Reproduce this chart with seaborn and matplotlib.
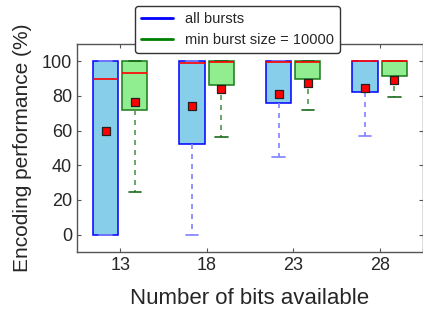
import matplotlib
matplotlib.use("Agg")
import matplotlib.pyplot as plt
from matplotlib.lines import Line2D
import seaborn as sns
import numpy as np
import pandas as pd

sns.set_style("white")
plt.rcParams['font.family'] = ['Liberation Sans', 'DejaVu Sans']

bits = [13, 18, 23, 28]
# box statistics per group: lower whisker, Q1, median, Q3, upper whisker
all_lo = [0, 0, 45, 57]
all_q1 = [0, 52.5, 75.7, 82.5]
all_med = [89.5, 98.7, 99.8, 100]
all_q3 = [100, 100, 100, 100]
all_hi = [100, 100, 100, 100]
all_mean = [59.7, 74.0, 81.2, 84.3]

big_lo = [24.5, 56, 72, 79.5]
big_q1 = [72, 86.5, 90, 91.5]
big_med = [93, 99.3, 99.5, 100]
big_q3 = [100, 100, 100, 100]
big_hi = [100, 100, 100, 100]
big_mean = [76.5, 84.0, 87.5, 89.0]

labels = ["all bursts", "min burst size = 10000"]


def frame(lo, q1, med, q3, hi, offset):
    rows = []
    for i, b in enumerate(bits):
        for v in (lo[i], q1[i], med[i], q3[i], hi[i]):
            rows.append({"x": b + offset, "v": v})
    return pd.DataFrame(rows)


fig = plt.figure(figsize=(4.23, 3.11), dpi=100)
ax = fig.add_axes([0.182, 0.19, 0.818, 0.669])

off = 0.85
specs = [
    (frame(all_lo, all_q1, all_med, all_q3, all_hi, -off), all_mean, -off,
     "#87CEEB", "blue", (0.5, 0.5, 1.0), (0.5, 0.5, 1.0)),
    (frame(big_lo, big_q1, big_med, big_q3, big_hi, off), big_mean, off,
     "#90EE90", "#1a7a1a", (0.3, 0.6, 0.3), "#1a6a1a"),
]
for df, means, o, fc, ec, wc, cc in specs:
    sns.boxplot(data=df, x="x", y="v", native_scale=True, width=0.29,
                whis=(0, 100), color=fc, linecolor=ec, linewidth=1.1,
                showfliers=False, ax=ax,
                boxprops=dict(facecolor=fc, edgecolor=ec),
                medianprops=dict(color="#ff0000", linewidth=1.2, zorder=4),
                whiskerprops=dict(color=wc, linestyle=(0, (3, 3)), linewidth=1.2),
                capprops=dict(color=cc, linewidth=1.2))
    ax.scatter(np.array(bits) + o, means, marker="s", s=26, color="red",
               edgecolors="#222222", linewidths=0.9, zorder=5)

ax.set_xlim(10.5, 30.5)
ax.set_ylim(-10, 110)
ax.set_xticks(bits)
ax.set_xticklabels([str(b) for b in bits])
ax.set_yticks([0, 20, 40, 60, 80, 100])
ax.tick_params(axis="both", labelsize=13, direction="in", length=3,
               color="#555555", top=True, right=True, bottom=True, left=True)
ax.tick_params(axis="x", pad=4)
ax.set_xlabel("Number of bits available", fontsize=16, labelpad=10)
ax.set_ylabel("Encoding performance (%)", fontsize=15, labelpad=7)
for s in ax.spines.values():
    s.set_color("#555555")
    s.set_linewidth(1.0)

handles = [Line2D([0], [0], color="blue", lw=2),
           Line2D([0], [0], color="green", lw=2)]
leg = fig.legend(handles, labels, loc="upper center",
                 bbox_to_anchor=(0.561, 0.981), borderaxespad=0,
                 fontsize=10.5, frameon=True,
                 fancybox=True, framealpha=1, edgecolor="#333333",
                 handlelength=2.2, borderpad=0.4, labelspacing=0.5)
leg.get_frame().set_linewidth(1.0)

fig.savefig("out.png", dpi=100)
